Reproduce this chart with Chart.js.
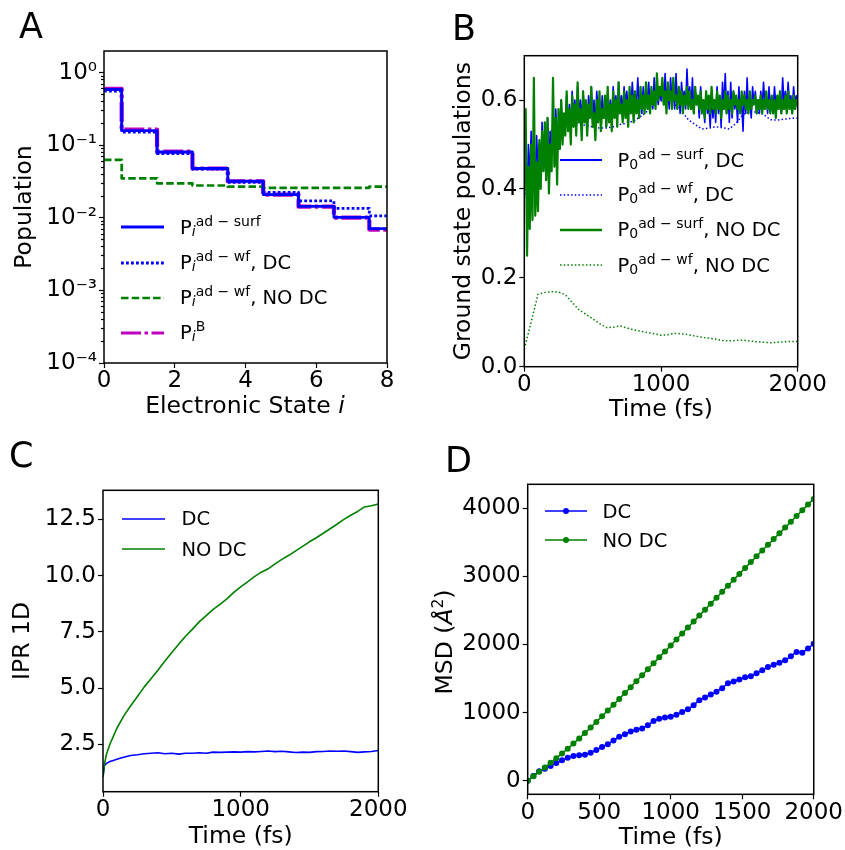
<!DOCTYPE html>
<html lang="en">
<head>
<meta charset="UTF-8">
<title>Populations, IPR and MSD</title>
<script src="https://cdn.jsdelivr.net/npm/chart.js"></script>
<style>
  body { margin: 0; background: #fff; font-family: 'DejaVu Sans', sans-serif; color: #000; }
  #fig { position: relative; width: 845px; height: 850px; overflow: hidden; }
  .panel { position: absolute; }
  .letter { position: absolute; font-size: 35px; line-height: 1; }
  .leg { position: absolute; font-size: 19.5px; line-height: 1; white-space: nowrap; }
  .leg sup { font-size: 14px; vertical-align: baseline; position: relative; top: -8px; }
  .leg sub { font-size: 14px; vertical-align: baseline; position: relative; top: 2px; }
  .sample { position: absolute; }
  .atitle { position: absolute; font-size: 23.5px; line-height: 1; white-space: nowrap; }
  .atitle sup { font-size: 15.5px; vertical-align: baseline; position: relative; top: -9px; }
</style>
</head>
<body>
<div id="fig">
  <div class="panel" style="left:0;top:0;width:420px;height:420px"><canvas id="chartA"></canvas></div>
  <div class="panel" style="left:420px;top:0;width:425px;height:420px"><canvas id="chartB"></canvas></div>
  <div class="panel" style="left:0;top:420px;width:420px;height:430px"><canvas id="chartC"></canvas></div>
  <div class="panel" style="left:420px;top:420px;width:425px;height:430px"><canvas id="chartD"></canvas></div>

  <div class="letter" style="left:19px;top:9px">A</div>
  <div class="letter" style="left:452px;top:11px">B</div>
  <div class="letter" style="left:9px;top:438px">C</div>
  <div class="letter" style="left:445px;top:443px">D</div>

  <div class="atitle" style="left:245px;top:406px;transform:translate(-50%,-50%)">Electronic State <i>i</i></div>
  <div class="atitle" style="left:445px;top:642px;transform:translate(-50%,-50%) rotate(-90deg)">MSD (<i>Å</i><sup>2</sup>)</div>
</div>

<script>
  // ---- A: population of each electronic state (log scale)
  const statesA = [0, 1, 2, 3, 4, 5, 6, 7, 8];
  const popSurf = [0.59, 0.16, 0.081, 0.048, 0.032, 0.021, 0.0144, 0.0102, 0.0071];
  const popWfDC = [0.56, 0.152, 0.077, 0.047, 0.031, 0.0225, 0.0172, 0.0135, 0.0107];
  const popWfNoDC = [0.063, 0.035, 0.030, 0.028, 0.027, 0.026, 0.026, 0.026, 0.027];
  const popBoltz = [0.60, 0.165, 0.082, 0.048, 0.032, 0.021, 0.0143, 0.0101, 0.0069];
  const ticksAx = [0, 2, 4, 6, 8];
  const ticksAy = [1e-4, 1e-3, 1e-2, 1e-1, 1];
  const labelsAy = ['10⁻⁴', '10⁻³', '10⁻²', '10⁻¹', '10⁰'];
  const minorAy = [1e-4, 1e-3, 1e-2, 1e-1].flatMap(d => [2, 3, 4, 5, 6, 7, 8, 9].map(k => k * d));

  // ---- B: ground state population vs time
  const timeB = Array.from({ length: 201 }, (_, i) => i * 10);
  const surfDC = [0.40,
    0.48, 0.36, 0.50, 0.42, 0.53, 0.44, 0.49, 0.41, 0.52, 0.45,
    0.50, 0.43, 0.55, 0.44, 0.51, 0.42, 0.56, 0.47, 0.53, 0.49,
    0.56, 0.48, 0.58, 0.51, 0.55, 0.49, 0.60, 0.52, 0.57, 0.54,
    0.61, 0.55, 0.59, 0.53, 0.62, 0.56, 0.60, 0.54, 0.63, 0.57,
    0.60, 0.55, 0.62, 0.56, 0.59, 0.54, 0.61, 0.57, 0.63, 0.55,
    0.60, 0.54, 0.62, 0.57, 0.59, 0.55, 0.61, 0.56, 0.58, 0.54,
    0.62, 0.57, 0.60, 0.55, 0.63, 0.58, 0.61, 0.56, 0.64, 0.58,
    0.61, 0.57, 0.63, 0.59, 0.62, 0.57, 0.60, 0.58, 0.64, 0.59,
    0.62, 0.58, 0.65, 0.59, 0.61, 0.57, 0.63, 0.59, 0.62, 0.60,
    0.64, 0.59, 0.62, 0.58, 0.65, 0.60, 0.63, 0.59, 0.62, 0.60,
    0.64, 0.59, 0.66, 0.60, 0.63, 0.58, 0.65, 0.60, 0.62, 0.58,
    0.66, 0.59, 0.63, 0.57, 0.64, 0.60, 0.62, 0.58, 0.67, 0.60,
    0.63, 0.58, 0.65, 0.57, 0.62, 0.59, 0.61, 0.56, 0.63, 0.58,
    0.60, 0.55, 0.62, 0.57, 0.59, 0.54, 0.61, 0.56, 0.60, 0.55,
    0.63, 0.57, 0.61, 0.54, 0.64, 0.58, 0.66, 0.57, 0.62, 0.55,
    0.64, 0.56, 0.62, 0.58, 0.61, 0.55, 0.63, 0.57, 0.60, 0.53,
    0.62, 0.57, 0.65, 0.58, 0.61, 0.56, 0.63, 0.59, 0.62, 0.57,
    0.60, 0.57, 0.62, 0.58, 0.64, 0.59, 0.61, 0.57, 0.63, 0.58,
    0.61, 0.57, 0.63, 0.59, 0.60, 0.58, 0.62, 0.57, 0.65, 0.59,
    0.62, 0.58, 0.64, 0.59, 0.61, 0.57, 0.63, 0.59, 0.61, 0.58];
  const surfNoDC = [0.40,
    0.58, 0.25, 0.45, 0.31, 0.50, 0.33, 0.65, 0.34, 0.46, 0.35,
    0.51, 0.40, 0.53, 0.44, 0.55, 0.42, 0.56, 0.39, 0.50, 0.44,
    0.65, 0.45, 0.56, 0.41, 0.58, 0.49, 0.60, 0.50, 0.57, 0.52,
    0.62, 0.53, 0.58, 0.50, 0.61, 0.54, 0.59, 0.52, 0.64, 0.55,
    0.58, 0.51, 0.62, 0.55, 0.60, 0.52, 0.59, 0.56, 0.63, 0.54,
    0.57, 0.51, 0.60, 0.55, 0.62, 0.53, 0.58, 0.56, 0.61, 0.54,
    0.63, 0.55, 0.59, 0.53, 0.62, 0.56, 0.60, 0.54, 0.64, 0.57,
    0.59, 0.55, 0.62, 0.56, 0.60, 0.54, 0.63, 0.57, 0.61, 0.55,
    0.62, 0.57, 0.60, 0.56, 0.63, 0.58, 0.61, 0.57, 0.64, 0.58,
    0.61, 0.57, 0.63, 0.59, 0.62, 0.58, 0.66, 0.60, 0.63, 0.61,
    0.65, 0.59, 0.62, 0.57, 0.64, 0.60, 0.62, 0.58, 0.65, 0.60,
    0.61, 0.58, 0.63, 0.59, 0.62, 0.57, 0.61, 0.59, 0.63, 0.58,
    0.62, 0.58, 0.60, 0.57, 0.63, 0.59, 0.61, 0.58, 0.62, 0.57,
    0.60, 0.56, 0.62, 0.58, 0.61, 0.57, 0.63, 0.58, 0.60, 0.57,
    0.62, 0.58, 0.61, 0.56, 0.60, 0.58, 0.62, 0.57, 0.61, 0.58,
    0.60, 0.57, 0.62, 0.59, 0.61, 0.58, 0.60, 0.57, 0.62, 0.59,
    0.61, 0.58, 0.60, 0.57, 0.62, 0.58, 0.60, 0.59, 0.61, 0.57,
    0.60, 0.58, 0.61, 0.57, 0.60, 0.58, 0.62, 0.58, 0.60, 0.57,
    0.61, 0.57, 0.60, 0.56, 0.61, 0.58, 0.62, 0.57, 0.60, 0.58,
    0.61, 0.57, 0.62, 0.58, 0.60, 0.57, 0.61, 0.58, 0.60, 0.59];
  const timeBwf = Array.from({ length: 41 }, (_, i) => i * 50);
  const wfDC = [0.38, 0.45, 0.49, 0.515, 0.53, 0.54, 0.545, 0.548, 0.547, 0.543,
    0.54, 0.537, 0.537, 0.54, 0.545, 0.548, 0.553, 0.563, 0.575, 0.588,
    0.598, 0.597, 0.59, 0.575, 0.556, 0.545, 0.535, 0.537, 0.54, 0.538,
    0.535, 0.548, 0.568, 0.573, 0.573, 0.568, 0.556, 0.555, 0.557, 0.559, 0.56];
  const wfNoDC = [0.04, 0.10, 0.163, 0.167, 0.169, 0.168, 0.162, 0.145, 0.128, 0.118,
    0.108, 0.097, 0.088, 0.089, 0.092, 0.087, 0.083, 0.08, 0.077, 0.074,
    0.071, 0.072, 0.075, 0.074, 0.072, 0.069, 0.066, 0.064, 0.062, 0.059,
    0.058, 0.059, 0.06, 0.058, 0.056, 0.055, 0.054, 0.055, 0.056, 0.057, 0.057];
  const ticksBx = [0, 1000, 2000];
  const ticksBy = [0, 0.2, 0.4, 0.6];
  const labelsBy = ['0.0', '0.2', '0.4', '0.6'];

  // ---- C: IPR vs time
  const timeC = [0, 10, 25, 50, 75, 100, 150, 200, 250, 300, 350, 400, 450, 500, 550, 600,
    650, 700, 750, 800, 850, 900, 950, 1000, 1050, 1100, 1150, 1200, 1250, 1300, 1350,
    1400, 1450, 1500, 1550, 1600, 1650, 1700, 1750, 1800, 1850, 1900, 1950, 2000];
  const iprDC = [1.05, 1.55, 1.65, 1.73, 1.78, 1.83, 1.92, 2.0, 2.03, 2.08, 2.1, 2.12, 2.08, 2.1, 2.06, 2.1,
    2.1, 2.12, 2.1, 2.15, 2.14, 2.15, 2.16, 2.15, 2.17, 2.16, 2.18, 2.2, 2.17, 2.19, 2.16,
    2.13, 2.15, 2.14, 2.17, 2.18, 2.2, 2.19, 2.2, 2.17, 2.14, 2.16, 2.18, 2.22];
  const iprNoDC = [1.05, 1.6, 2.05, 2.5, 2.85, 3.2, 3.75, 4.2, 4.62, 5.05, 5.42, 5.8, 6.2, 6.58, 6.95, 7.3,
    7.62, 7.95, 8.22, 8.5, 8.72, 8.96, 9.25, 9.5, 9.72, 9.95, 10.15, 10.3, 10.52, 10.72, 10.9,
    11.1, 11.3, 11.5, 11.68, 11.88, 12.08, 12.28, 12.5, 12.68, 12.85, 13.05, 13.1, 13.18];
  const ticksCx = [0, 1000, 2000];
  const ticksCy = [2.5, 5, 7.5, 10, 12.5];
  const labelsCy = ['2.5', '5.0', '7.5', '10.0', '12.5'];

  // ---- D: MSD vs time
  const timeD = Array.from({ length: 51 }, (_, i) => i * 40);
  const msdDC = [0, 70, 138, 175, 215, 258, 298, 335, 362, 374, 382, 410, 450, 495, 535, 590, 645,
    683, 720, 746, 766, 814, 875, 909, 926, 940, 966, 1008, 1047, 1108, 1182, 1222, 1263,
    1307, 1358, 1430, 1457, 1484, 1518, 1532, 1575, 1622, 1668, 1700, 1730, 1766, 1825,
    1890, 1878, 1940, 2010];
  const msdNoDC = [0, 65, 130, 195, 262, 330, 400, 470, 545, 620, 700, 780, 862, 945, 1030, 1115,
    1200, 1287, 1373, 1460, 1547, 1635, 1722, 1810, 1897, 1985, 2073, 2160, 2248, 2335, 2423,
    2510, 2598, 2685, 2773, 2860, 2948, 3035, 3122, 3208, 3293, 3378, 3463, 3547, 3630, 3715,
    3800, 3884, 3968, 4052, 4136];
  const ticksDx = [0, 500, 1000, 1500, 2000];
  const ticksDy = [0, 1000, 2000, 3000, 4000];

  const BLUE = '#0000ff', GREEN = '#008000', MAGENTA = '#bf00bf';

  Chart.defaults.font.family = "'DejaVu Sans', sans-serif";
  Chart.defaults.color = '#000';

  // box around the plot area, like matplotlib spines
  const frame = {
    id: 'frame',
    afterDraw(chart) {
      const a = chart.chartArea, c = chart.ctx;
      c.save();
      c.strokeStyle = '#000';
      c.lineWidth = 1.5;
      c.strokeRect(a.left, a.top, a.right - a.left, a.bottom - a.top);
      c.restore();
    }
  };

  function pts(xs, ys) { return xs.map((x, i) => ({ x, y: ys[i] })); }

  function axis(o) {
    return {
      type: o.type || 'linear',
      position: o.position,
      min: o.min, max: o.max,
      weight: o.weight || 0,
      bounds: 'data',
      grid: { drawOnChartArea: false, drawTicks: true, tickLength: o.tickLength || 5, tickColor: '#000', tickWidth: 1.2 },
      border: { display: false },
      ticks: {
        display: !o.hideLabels,
        font: { size: 23, lineHeight: 1 },
        padding: 2, autoSkip: false, maxRotation: 0, color: '#000',
        callback: (v, i) => o.labels ? o.labels[i] : String(v)
      },
      title: o.title
        ? { display: true, text: o.title, color: '#000', font: { size: 23.5, lineHeight: 1 }, padding: o.titlePad }
        : { display: false },
      afterBuildTicks: s => { s.ticks = o.ticks.map(v => ({ value: v })); },
      afterFit: s => { if (o.position === 'left') s.width = o.size; else s.height = o.size; }
    };
  }

  function line(label, xs, ys, color, width, dash, order, extra) {
    return Object.assign({
      label, data: pts(xs, ys),
      borderColor: color, backgroundColor: color, borderWidth: width, borderDash: dash || [],
      borderJoinStyle: 'round', pointRadius: 0, tension: 0, fill: false, order
    }, extra || {});
  }

  function makeChart(id, datasets, scales, pad) {
    return new Chart(document.getElementById(id), {
      type: 'line',
      data: { datasets },
      options: {
        responsive: true, maintainAspectRatio: false, animation: false, devicePixelRatio: 1,
        layout: { padding: pad },
        plugins: { legend: { display: false }, tooltip: { enabled: false } },
        scales
      },
      plugins: [frame]
    });
  }

  function legend(rows) {
    const fig = document.getElementById('fig');
    rows.forEach(r => {
      const w = r.x2 - r.x1;
      let svg = `<svg class="sample" style="left:${r.x1}px;top:${r.y - 6}px" width="${w}" height="12">` +
        `<line x1="0" y1="6" x2="${w}" y2="6" stroke="${r.color}" stroke-width="${r.width}"` +
        (r.dash ? ` stroke-dasharray="${r.dash.join(' ')}"` : '') + '/>';
      if (r.marker) svg += `<circle cx="${w / 2}" cy="6" r="${r.marker}" fill="${r.color}"/>`;
      svg += '</svg>';
      fig.insertAdjacentHTML('beforeend', svg);
      fig.insertAdjacentHTML('beforeend', `<div class="leg" style="left:${r.tx}px;top:${r.y - 9.4}px">${r.html}</div>`);
    });
  }

  const dashDotA = [2.8, 2.2], dashA = [7.5, 3.2], dashDotMA = [20, 3.5, 3.5, 3.5], dotB = [1.5, 2.2];

  function panelA() {
    makeChart('chartA', [
      line('P_i^B', statesA, popBoltz, MAGENTA, 4.2, dashDotMA, 4, { stepped: 'middle', yAxisID: 'y' }),
      line('P_i^ad-wf, NO DC', statesA, popWfNoDC, GREEN, 2.7, dashA, 3, { stepped: 'middle', yAxisID: 'y' }),
      line('P_i^ad-surf', statesA, popSurf, BLUE, 2.8, [], 2, { stepped: 'middle', yAxisID: 'y' }),
      line('P_i^ad-wf, DC', statesA, popWfDC, BLUE, 2.8, dashDotA, 1, { stepped: 'middle', yAxisID: 'y' })
    ], {
      x: axis({ position: 'bottom', min: 0, max: 8, ticks: ticksAx, size: 57 }),
      y: axis({ type: 'logarithmic', position: 'left', min: 1e-4, max: 2, ticks: ticksAy, labels: labelsAy,
                size: 104, weight: 1, title: 'Population', titlePad: { top: 13.25 } }),
      yMinor: axis({ type: 'logarithmic', position: 'left', min: 1e-4, max: 2, ticks: minorAy, hideLabels: true,
                     size: 0, weight: 0, tickLength: 3 })
    }, { top: 51, right: 33, left: 0, bottom: 0 });

    legend([
      { x1: 121, x2: 164, y: 227, tx: 180, color: BLUE, width: 3, html: 'P<sub><i>i</i></sub><sup>ad − surf</sup>' },
      { x1: 121, x2: 164, y: 262.5, tx: 180, color: BLUE, width: 3, dash: dashDotA, html: 'P<sub><i>i</i></sub><sup>ad − wf</sup>, DC' },
      { x1: 121, x2: 164, y: 297.5, tx: 180, color: GREEN, width: 2.7, dash: dashA, html: 'P<sub><i>i</i></sub><sup>ad − wf</sup>, NO DC' },
      { x1: 121, x2: 164, y: 332.5, tx: 180, color: MAGENTA, width: 3.2, dash: dashDotMA, html: 'P<sub><i>i</i></sub><sup>B</sup>' }
    ]);
  }

  function panelB() {
    makeChart('chartB', [
      line('P0 surf DC', timeB, surfDC, BLUE, 1.6, [], 4),
      line('P0 wf DC', timeBwf, wfDC, BLUE, 1.5, dotB, 3),
      line('P0 surf NO DC', timeB, surfNoDC, GREEN, 2.2, [], 2),
      line('P0 wf NO DC', timeBwf, wfNoDC, GREEN, 1.5, dotB, 1)
    ], {
      x: axis({ position: 'bottom', min: 0, max: 2000, ticks: ticksBx, size: 53.3, title: 'Time (fs)', titlePad: { bottom: -1.75 } }),
      y: axis({ position: 'left', min: 0, max: 0.70, ticks: ticksBy, labels: labelsBy, size: 104.3,
                title: 'Ground state populations', titlePad: { top: 32.25 } })
    }, { top: 55.7, right: 47.3, left: 0, bottom: 0 });

    legend([
      { x1: 560, x2: 602, y: 160, tx: 617.5, color: BLUE, width: 2, html: 'P<sub>0</sub><sup>ad − surf</sup>, DC' },
      { x1: 560, x2: 602, y: 194.5, tx: 617.5, color: BLUE, width: 1.5, dash: dotB, html: 'P<sub>0</sub><sup>ad − wf</sup>, DC' },
      { x1: 560, x2: 602, y: 229.5, tx: 617.5, color: GREEN, width: 2.4, html: 'P<sub>0</sub><sup>ad − surf</sup>, NO DC' },
      { x1: 560, x2: 602, y: 265, tx: 617.5, color: GREEN, width: 1.5, dash: dotB, html: 'P<sub>0</sub><sup>ad − wf</sup>, NO DC' }
    ]);
  }

  function panelC() {
    makeChart('chartC', [
      line('DC', timeC, iprDC, BLUE, 1.6, [], 2),
      line('NO DC', timeC, iprNoDC, GREEN, 1.6, [], 1)
    ], {
      x: axis({ position: 'bottom', min: 0, max: 2000, ticks: ticksCx, size: 58.3, title: 'Time (fs)', titlePad: { bottom: 1.75 } }),
      y: axis({ position: 'left', min: 0.39, max: 13.79, ticks: ticksCy, labels: labelsCy, size: 103,
                title: 'IPR 1D', titlePad: { top: 11.25 } })
    }, { top: 70.3, right: 41.7, left: 0, bottom: 0 });

    legend([
      { x1: 121.5, x2: 165, y: 518.5, tx: 181.5, color: BLUE, width: 1.6, html: 'DC' },
      { x1: 121.5, x2: 165, y: 549, tx: 181.5, color: GREEN, width: 1.6, html: 'NO DC' }
    ]);
  }

  function panelD() {
    const dots = { pointRadius: 3, pointBorderWidth: 0, pointHoverRadius: 3 };
    makeChart('chartD', [
      line('DC', timeD, msdDC, BLUE, 1.6, [], 2, dots),
      line('NO DC', timeD, msdNoDC, GREEN, 1.6, [], 1, dots)
    ], {
      x: axis({ position: 'bottom', min: 0, max: 2000, ticks: ticksDx, size: 55.7, title: 'Time (fs)', titlePad: { bottom: 0.05 } }),
      y: axis({ position: 'left', min: -200, max: 4350, ticks: ticksDy, size: 107.7 })
    }, { top: 64.3, right: 9.3, left: 0, bottom: 0 });

    legend([
      { x1: 545, x2: 587, y: 511, tx: 602.5, color: BLUE, width: 1.6, marker: 3, html: 'DC' },
      { x1: 545, x2: 587, y: 540, tx: 602.5, color: GREEN, width: 1.6, marker: 3, html: 'NO DC' }
    ]);
  }

  panelA();
  panelB();
  panelC();
  panelD();
</script>
</body>
</html>
